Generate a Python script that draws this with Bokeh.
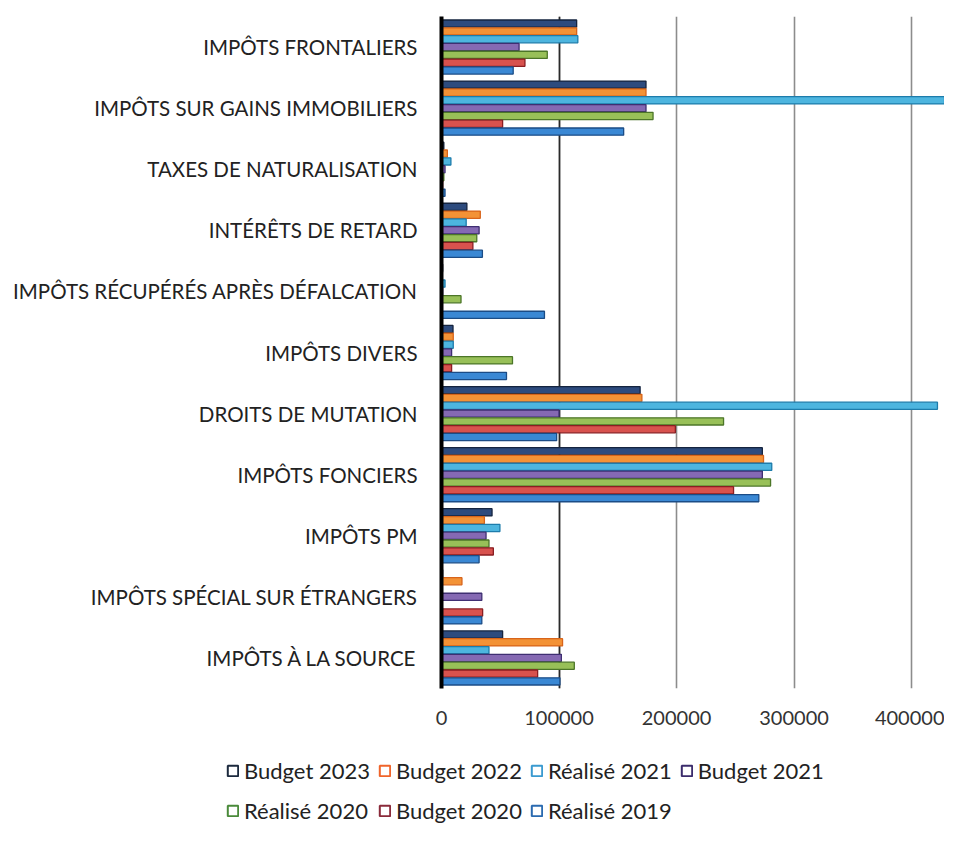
from bokeh.plotting import figure
from bokeh.layouts import column
from bokeh.models import (ColumnDataSource, FactorRange, Range1d, Legend, LegendItem,
                          NumeralTickFormatter, FixedTicker, Grid)
from bokeh.transform import dodge
from bokeh.embed import file_html
from bokeh.resources import INLINE

# categories, bottom to top
categories = [
    "IMPÔTS À LA SOURCE",
    "IMPÔTS SPÉCIAL SUR ÉTRANGERS",
    "IMPÔTS PM",
    "IMPÔTS FONCIERS",
    "DROITS DE MUTATION",
    "IMPÔTS DIVERS",
    "IMPÔTS RÉCUPÉRÉS APRÈS DÉFALCATION",
    "INTÉRÊTS DE RETARD",
    "TAXES DE NATURALISATION",
    "IMPÔTS SUR GAINS IMMOBILIERS",
    "IMPÔTS FRONTALIERS",
]

series_names = ["Budget 2023", "Budget 2022", "Réalisé 2021", "Budget 2021",
                "Réalisé 2020", "Budget 2020", "Réalisé 2019"]

budget_2023 = [52000, 1000, 43000, 273000, 169000, 9800, 1000, 21600, 2000, 174000, 115000]
budget_2022 = [103000, 17400, 36500, 274000, 170500, 10000, 500, 33000, 5000, 174000, 115000]
realise_2021 = [40400, 0, 49700, 281000, 422000, 10000, 3000, 21000, 8000, 440000, 116000]
budget_2021 = [102000, 34300, 37900, 273000, 100000, 8600, 1000, 32000, 3000, 174000, 66000]
realise_2020 = [113000, 0, 40400, 280000, 240000, 60400, 16600, 30000, 2000, 180000, 90000]
budget_2020 = [81800, 35000, 44100, 248500, 199000, 8600, 0, 26700, 1000, 52000, 71000]
realise_2019 = [100800, 34300, 32000, 270000, 98000, 55300, 87600, 34800, 3000, 155000, 61000]

x_ticks = [0, 100000, 200000, 300000, 400000]

series_values = [budget_2023, budget_2022, realise_2021, budget_2021,
                 realise_2020, budget_2020, realise_2019]
fill_colors = ["#2d4b7e", "#f39236", "#4db5df", "#8569b3", "#98c058", "#d8524e", "#3a88d4"]
line_colors = ["#15243f", "#d8641a", "#1d7cab", "#3f2f72", "#4c7628", "#8a1e22", "#1b4c86"]
legend_colors = ["#1c2a3e", "#f0642a", "#3a9ad0", "#3b2c6c", "#4a8a3a", "#8a2a3a", "#2a6ab0"]

FONT = "Lato"
W = 944

data = {"cat": categories}
keys = []
for i, vals in enumerate(series_values):
    k = f"s{i}"
    keys.append(k)
    data[k] = vals
source = ColumnDataSource(data)

p = figure(width=W, height=733, output_backend="svg", toolbar_location=None,
           y_range=FactorRange(factors=categories), x_range=Range1d(0, 428000),
           min_border_left=441, min_border_right=0, min_border_top=16, min_border_bottom=45)
p.frame_align = False
p.outline_line_color = None
p.background_fill_color = "white"
p.border_fill_color = "white"

p.ygrid.grid_line_color = None
p.xgrid.grid_line_color = "#8c8c8c"
p.xgrid.grid_line_width = 1.6
# darker first grid line, as in the reference
p.add_layout(Grid(dimension=0, ticker=FixedTicker(ticks=x_ticks[1:2]),
                  grid_line_color="#2a2a2a", grid_line_width=1.6))

step = 0.128
for i, k in enumerate(keys):
    off = (3 - i) * step
    p.hbar(y=dodge("cat", off, range=p.y_range), right=k, left=0, height=step * 0.92,
           source=source, fill_color=fill_colors[i], line_color=line_colors[i], line_width=1.3)

# axes
p.xaxis.ticker = FixedTicker(ticks=x_ticks)
p.xaxis.formatter = NumeralTickFormatter(format="0")
p.xaxis.axis_line_color = None
p.xaxis.major_tick_line_color = None
p.xaxis.minor_tick_line_color = None
p.xaxis.major_label_text_font = FONT
p.xaxis.major_label_text_font_size = "20px"
p.xaxis.major_label_text_color = "#333333"
p.xaxis.major_label_standoff = 16

p.yaxis.axis_line_color = "black"
p.yaxis.axis_line_width = 4
p.yaxis.major_tick_line_color = None
p.yaxis.minor_tick_line_color = None
p.yaxis.major_label_text_font = FONT
p.yaxis.major_label_text_font_size = "20.5px"
p.yaxis.major_label_text_color = "#222222"
p.yaxis.major_label_standoff = 18

# legend in its own strip below the chart
LH = 92
lg = figure(width=W, height=LH, output_backend="svg", toolbar_location=None,
            x_range=Range1d(0, 1), y_range=Range1d(0, 1), x_axis_type=None, y_axis_type=None,
            min_border_left=226, min_border_right=0, min_border_top=21, min_border_bottom=0)
lg.frame_align = False
lg.outline_line_color = None
lg.xgrid.visible = False
lg.ygrid.visible = False

# hollow-square legend proxies, kept outside the visible range
proxy = ColumnDataSource(dict(l=[-3], r=[-2], t=[-2], b=[-3]))
legend_items = []
for i, name in enumerate(series_names):
    r = lg.quad(left="l", right="r", top="t", bottom="b", source=proxy, fill_alpha=0,
                line_color=legend_colors[i], line_width=2)
    legend_items.append(LegendItem(label=name, renderers=[r], index=0))

legend = Legend(items=legend_items, location="top_left", orientation="horizontal", ncols=4,
                glyph_width=13, glyph_height=13, label_height=32, spacing=8,
                label_standoff=5, padding=0, margin=0, border_line_color=None,
                background_fill_alpha=0, label_text_font=FONT, label_text_font_size="22px",
                label_text_color="#222222")
lg.add_layout(legend, "center")

open("out.html", "w").write(file_html(column(p, lg, spacing=0), INLINE))
